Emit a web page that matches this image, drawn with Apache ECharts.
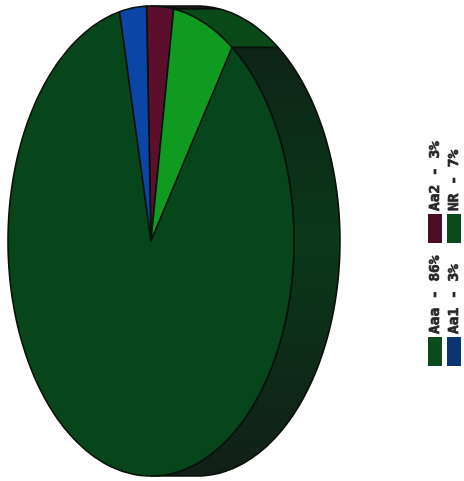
<!DOCTYPE html>
<html><head><meta charset="utf-8">
<style>html,body{margin:0;padding:0;background:#fff}#c{width:464px;height:481px}</style>
<script src="https://cdn.jsdelivr.net/npm/echarts@6/dist/echarts.min.js"></script>
</head><body><div id="c"></div>
<script>
const categories = ['Aa2', 'NR', 'Aaa', 'Aa1'];
const values = [3, 7, 86, 3];
const legendLabels = ['Aa2 - 3%', 'NR - 7%', 'Aaa - 86%', 'Aa1 - 3%'];
const topColors = ['#5c0f2c', '#0f9a20', '#07461a', '#0b46a6'];
const legendColors = ['#4a0f26', '#0b4a1c', '#0b4a1c', '#0b3570'];
const sideColors = ['#1c1210', '#0a4a18', null, '#0b2a50'];

const startDeg = -1.8, cx = 151, cy = 241, rx = 143, ry = 235, depth = 46;
const total = values.reduce((a, b) => a + b, 0);
let acc = startDeg;
const spans = values.map(v => { const s = acc; acc += v / total * 360; return [s, acc]; });
const pt = (deg, dx) => {
  const t = deg * Math.PI / 180;
  return [cx + dx + rx * Math.sin(t), cy - ry * Math.cos(t)];
};
const arc = (a, b, dx) => {
  const n = Math.max(2, Math.ceil(Math.abs(b - a) / 1.5));
  const out = [];
  for (let i = 0; i <= n; i++) out.push(pt(a + (b - a) * i / n, dx));
  return out;
};
const aaaSide = {type: 'linear', x: 0, y: 0, x2: 0, y2: 1, colorStops: [
  {offset: 0, color: '#0e2416'}, {offset: 0.45, color: '#0a3819'}, {offset: 1, color: '#121f17'}]};

function sideItem(params, api) {
  const i = api.value(0), s = spans[i];
  const a = Math.max(s[0], 0), b = Math.min(s[1], 180);
  if (b <= a) return {type: 'group', children: []};
  const points = arc(a, b, 0).concat(arc(b, a, depth));
  return {type: 'polygon', shape: {points},
    style: {fill: sideColors[i] || aaaSide, stroke: '#0a0f0a', lineWidth: 1.6, lineJoin: 'round'}};
}
function topItem(params, api) {
  const i = api.value(0), s = spans[i];
  const points = [[cx, cy]].concat(arc(s[0], s[1], 0));
  return {type: 'polygon', shape: {points},
    style: {fill: topColors[i], stroke: '#07120a', lineWidth: 1.6, lineJoin: 'round'}};
}
const legendPos = [[428, 214], [447, 214], [428, 337], [447, 337]];
const graphic = [];
legendLabels.forEach((t, i) => {
  const p = legendPos[i];
  graphic.push({type: 'rect', left: p[0], top: p[1], shape: {width: 14, height: 29}, style: {fill: legendColors[i]}});
  graphic.push({type: 'text', x: p[0] + 7, y: p[1] - 3, rotation: Math.PI / 2,
    style: {text: t, fill: '#26262a', stroke: '#26262a', lineWidth: 0.7, font: 'bold 14.5px "DejaVu Sans Mono"', textAlign: 'left', textVerticalAlign: 'middle'}});
});
const chart = echarts.init(document.getElementById('c'), null, {renderer: 'canvas'});
const rows = categories.map((c, i) => [i, values[i], c]);
chart.setOption({
  animation: false,
  backgroundColor: '#fff',
  graphic,
  series: [
    {type: 'custom', coordinateSystem: 'none', renderItem: sideItem, data: rows, z: 1, silent: true},
    {type: 'custom', coordinateSystem: 'none', renderItem: topItem, data: rows, z: 2, silent: true}
  ]
});
</script></body></html>
